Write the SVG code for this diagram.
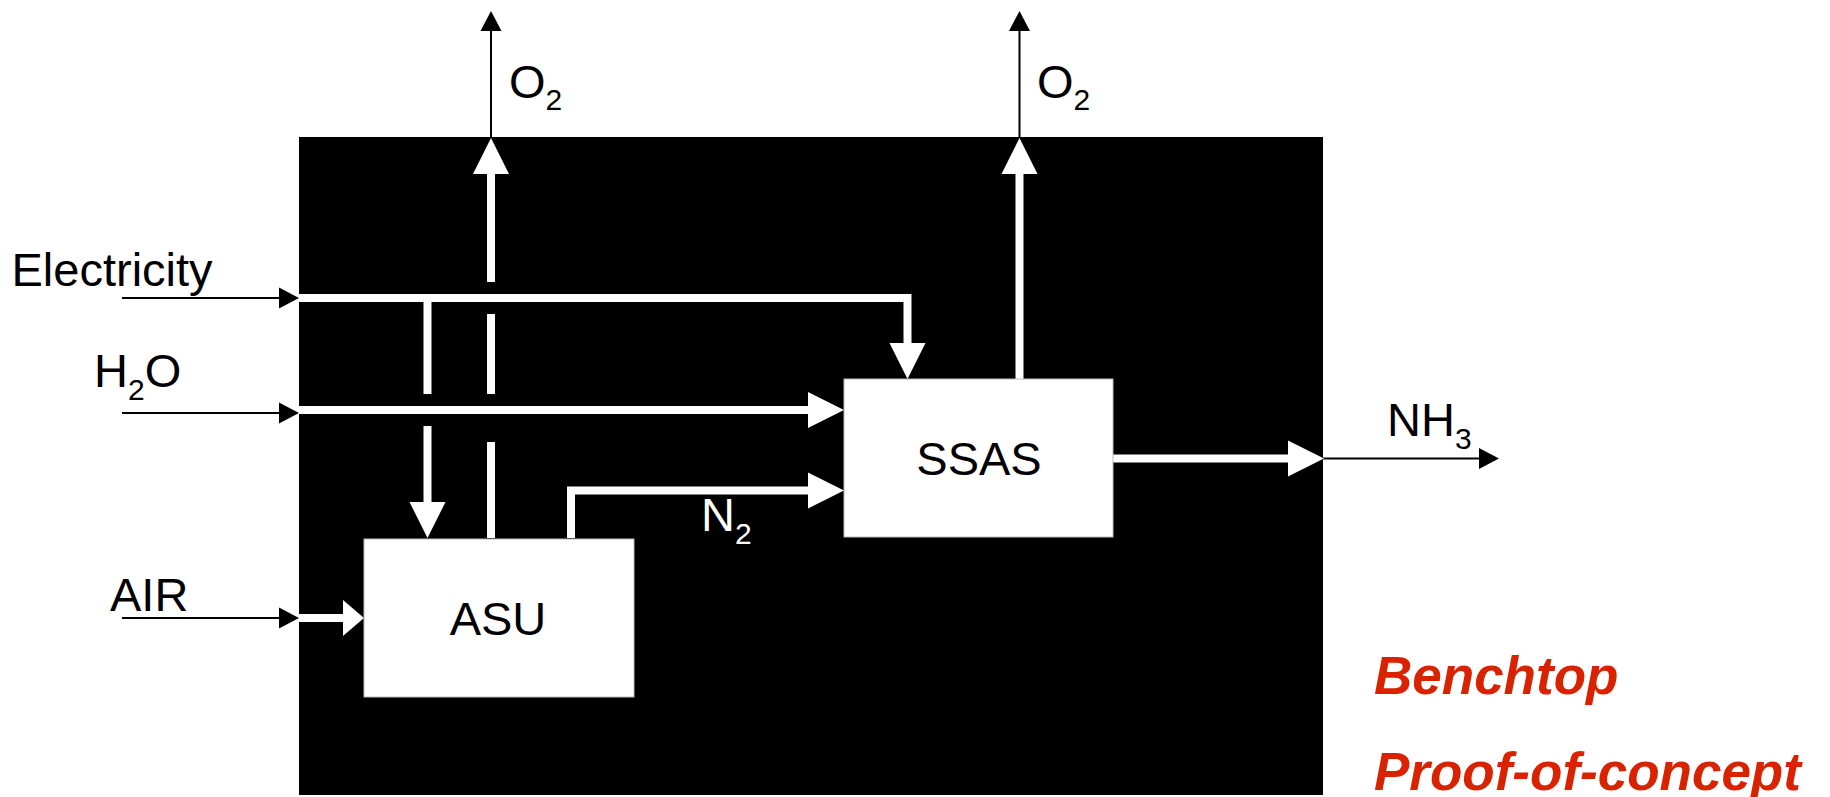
<svg xmlns="http://www.w3.org/2000/svg" width="1830" height="797" viewBox="0 0 1830 797">
  <style>
    .lbl { font-family: "Liberation Sans", Arial, sans-serif; font-size: 47px; fill: #000; }
    .wlbl { font-family: "Liberation Sans", Arial, sans-serif; font-size: 47px; fill: #fff; }
    .sub { font-size: 30px; }
    .red { font-family: "Liberation Sans", Arial, sans-serif; font-size: 53px; font-weight: bold; font-style: italic; fill: #D92300; }
    .flow { fill: none; stroke: #fff; stroke-width: 8; stroke-linejoin: miter; stroke-linecap: butt; }
    .thin { fill: none; stroke: #000; stroke-width: 2; }
    .box { fill: #fff; stroke: #bbb; stroke-width: 1; }
  </style>
  <defs>
    <marker id="wHead" markerUnits="userSpaceOnUse" markerWidth="36" markerHeight="36" refX="0" refY="18" orient="auto" overflow="visible">
      <path d="M0,0 L36,18 L0,36 Z" fill="#fff"/>
    </marker>
    <marker id="wHeadShort" markerUnits="userSpaceOnUse" markerWidth="21" markerHeight="36" refX="0" refY="18" orient="auto" overflow="visible">
      <path d="M0,0 L21,18 L0,36 Z" fill="#fff"/>
    </marker>
    <marker id="bHead" markerUnits="userSpaceOnUse" markerWidth="20" markerHeight="21" refX="0" refY="10.5" orient="auto" overflow="visible">
      <path d="M0,0 L20,10.5 L0,21 Z" fill="#000"/>
    </marker>
  </defs>

  <g id="system">
    <rect x="299" y="137" width="1024" height="658" fill="#000"/>
  </g>

  <g id="connectors">
    <!-- external inputs -->
    <path class="thin" d="M122,298 H279" marker-end="url(#bHead)"/>
    <path class="thin" d="M122,413 H279" marker-end="url(#bHead)"/>
    <path class="thin" d="M122,618 H279" marker-end="url(#bHead)"/>
    <!-- external outputs -->
    <path class="thin" d="M491,137 V31" marker-end="url(#bHead)"/>
    <path class="thin" d="M1019.5,137 V31" marker-end="url(#bHead)"/>
    <path class="thin" d="M1323,458.5 H1479" marker-end="url(#bHead)"/>

    <!-- internal flows -->
    <path class="flow" d="M299,298 H907.5 V343" marker-end="url(#wHead)"/>
    <path class="flow" d="M427.5,298 V394"/>
    <path class="flow" d="M427.5,426 V502" marker-end="url(#wHead)"/>
    <path class="flow" d="M299,410 H808" marker-end="url(#wHead)"/>
    <path class="flow" d="M491,538 V442"/>
    <path class="flow" d="M491,394 V314"/>
    <path class="flow" d="M491,282 V174" marker-end="url(#wHead)"/>
    <path class="flow" d="M571,538 V490.5 H808" marker-end="url(#wHead)"/>
    <path class="flow" d="M299,618 H343" marker-end="url(#wHeadShort)"/>
    <path class="flow" d="M1113,458.5 H1288" marker-end="url(#wHead)"/>
    <path class="flow" d="M1019.5,379 V174" marker-end="url(#wHead)"/>

    <!-- flow labels -->
    <text class="lbl" x="11.5" y="286">Electricity</text>
    <text class="lbl" x="94" y="387">H<tspan class="sub" dy="13">2</tspan><tspan dy="-13">O</tspan></text>
    <text class="lbl" x="110" y="611">AIR</text>
    <text class="lbl" x="509" y="98">O<tspan class="sub" dy="12">2</tspan></text>
    <text class="lbl" x="1037" y="98">O<tspan class="sub" dy="12">2</tspan></text>
    <text class="lbl" x="1387" y="436">NH<tspan class="sub" dy="13">3</tspan></text>
    <text class="wlbl" x="701" y="531">N<tspan class="sub" dy="13">2</tspan></text>
  </g>

  <g id="ASU">
    <rect class="box" x="364" y="539" width="270" height="158"/>
    <text class="lbl" x="498" y="635" text-anchor="middle">ASU</text>
  </g>

  <g id="SSAS">
    <rect class="box" x="844" y="379" width="269" height="158"/>
    <text class="lbl" x="979" y="475" text-anchor="middle">SSAS</text>
  </g>

  <g id="notes">
    <text class="red" x="1374" y="694">Benchtop</text>
    <text class="red" x="1374" y="790">Proof-of-concept</text>
  </g>
</svg>
